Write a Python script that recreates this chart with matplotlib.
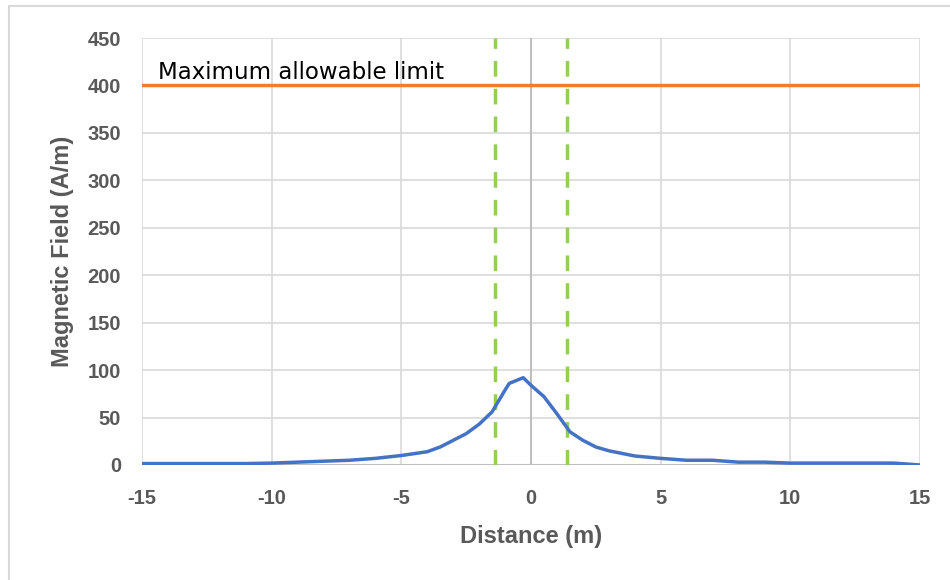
import matplotlib
matplotlib.use("Agg")
import matplotlib.pyplot as plt
from matplotlib.patches import Rectangle

plt.rcParams['font.family'] = ['Liberation Sans', 'DejaVu Sans']
plt.rcParams['axes.unicode_minus'] = False

# Magnetic field profile across the line
distance = [-15, -14, -13, -12, -11, -10, -9, -8, -7, -6, -5, -4, -3.5, -3, -2.5, -2,
            -1.5, -1, -0.84, -0.3, 0, 0.5, 1, 1.5, 2, 2.5, 3, 4, 5, 6, 7, 8, 9, 10,
            11, 12, 13, 14, 15]
field = [1.5, 1.5, 1.5, 1.5, 1.5, 2, 3, 4, 5, 7, 10, 14, 19, 26, 33, 43,
         56, 79, 86, 92, 84, 72, 54, 35, 26, 19, 15, 9.5, 7, 5, 5, 3, 3, 2,
         2, 2, 2, 2, 0]

limit_value = 400
limit_label = 'Maximum allowable limit'
row_edges = [-1.37, 1.37]

fig = plt.figure(figsize=(9.5, 5.8), dpi=100)
ax = fig.add_axes([142 / 950, 1 - 465 / 580, 778 / 950, 427 / 580])

# light chart border like the spreadsheet frame
fig.patches.append(Rectangle((9 / 950, -0.01), 1.0, 1.0 - 6 / 580 + 0.01,
                             transform=fig.transFigure, fill=False,
                             edgecolor='#d9d9d9', linewidth=1.5))

ax.grid(True, color='#d9d9d9', linewidth=1.2)
ax.set_axisbelow(True)
for s in ax.spines.values():
    s.set_visible(False)
ax.axhline(0, color='#bfbfbf', linewidth=1.5, zorder=1)
ax.axvline(0, color='#bfbfbf', linewidth=1.5, zorder=1)

ax.plot(distance, field, color='#4472c4', linewidth=2.5, zorder=3)
ax.axhline(limit_value, color='#ed7d31', linewidth=2.5, zorder=3)
for xe in row_edges:
    ax.axvline(xe, color='#92d050', linewidth=2.5, linestyle=(0, (4.5, 3.5)), zorder=2)

ax.text(-14.4, 402, limit_label, fontsize=16.5, color='black', va='bottom',
        family=['DejaVu Sans'])

ax.set_xlim(-15, 15)
ax.set_ylim(0, 450)
ax.set_xticks(range(-15, 16, 5))
ax.set_yticks(range(0, 451, 50))
ax.tick_params(length=0, labelsize=14.5, labelcolor='#595959')
ax.tick_params(axis='x', pad=17)
ax.tick_params(axis='y', pad=15)
for lab in ax.get_xticklabels() + ax.get_yticklabels():
    lab.set_fontweight('bold')

ax.set_xlabel('Distance (m)', fontsize=17, fontweight='bold', color='#595959')
ax.set_ylabel('Magnetic Field (A/m)', fontsize=17, fontweight='bold', color='#595959')
ax.xaxis.label.set_va('center')
ax.yaxis.label.set_va('center')
ax.xaxis.set_label_coords(0.5, -(537 - 465) / 427)
ax.yaxis.set_label_coords(-(142 - 62) / 778, 0.5)

fig.savefig('out.png', dpi=100)
